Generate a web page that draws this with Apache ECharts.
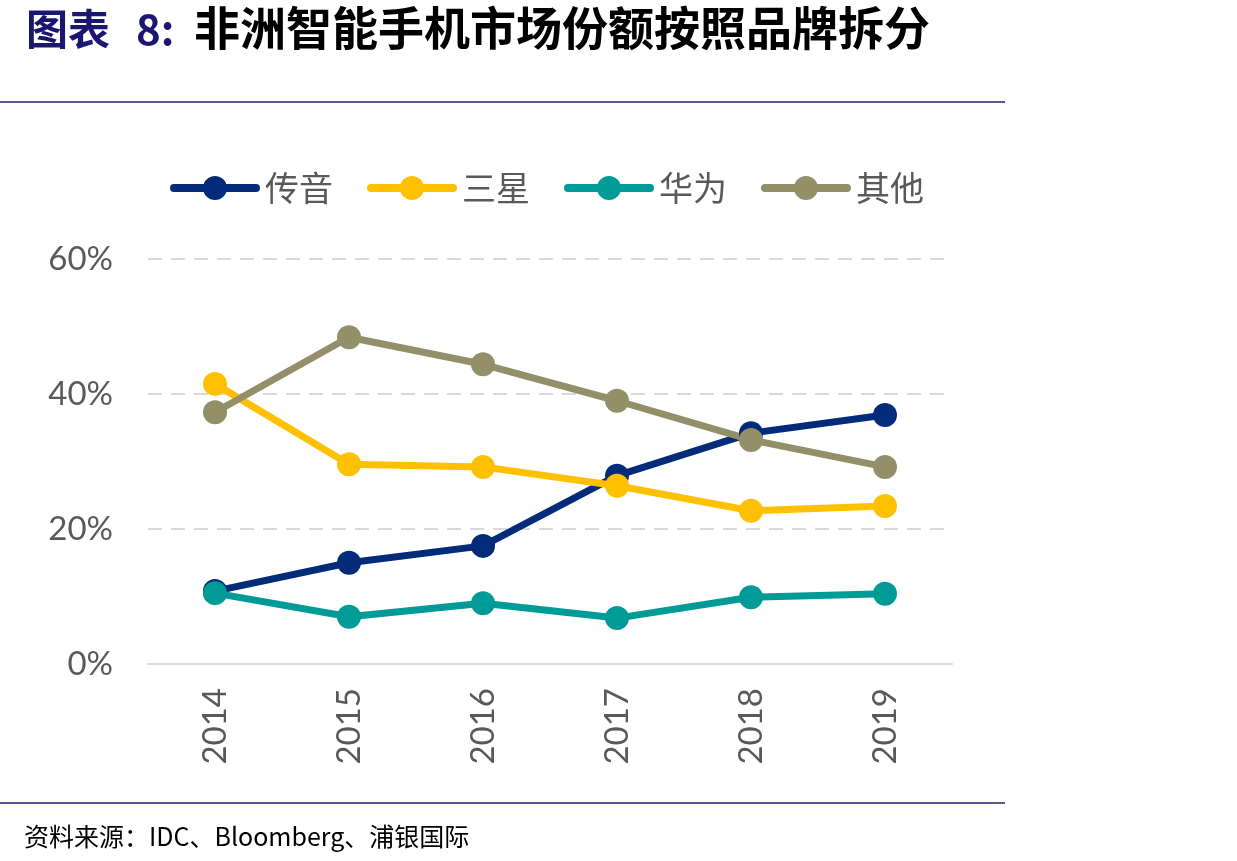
<!DOCTYPE html>
<html>
<head>
<meta charset="utf-8">
<script src="https://cdn.jsdelivr.net/npm/echarts@6/dist/echarts.min.js"></script>
<style>
  html, body { margin: 0; padding: 0; background: #fff; }
  #chart { width: 1237px; height: 861px; }
</style>
</head>
<body>
<div id="chart"></div>
<script>
// Africa smartphone market share by brand
const years = ["2014", "2015", "2016", "2017", "2018", "2019"];
const transsion = [10.8, 15.0, 17.5, 27.9, 34.2, 36.9];
const samsung = [41.5, 29.6, 29.2, 26.4, 22.7, 23.4];
const huawei = [10.5, 7.0, 9.0, 6.8, 9.9, 10.4];
const others = [37.3, 48.4, 44.4, 39.0, 33.2, 29.2];

const seriesNames = ["传音", "三星", "华为", "其他"];
const seriesColors = ["#022b7a", "#ffc000", "#009a97", "#939069"];
const seriesData = [transsion, samsung, huawei, others];

// legend icon: thick rounded bar with a dot in the middle
const legendIcon =
  "path://M4,8 L86,8 A4,4 0 0 1 86,16 L4,16 A4,4 0 0 1 4,8 Z " +
  "M33,12 A12,12 0 1 1 57,12 A12,12 0 1 1 33,12 Z";

const chart = echarts.init(document.getElementById("chart"));

chart.setOption({
  animation: false,
  backgroundColor: "#fff",
  textStyle: { fontFamily: "Lato, 'Noto Sans CJK SC', sans-serif" },
  legend: {
    data: seriesNames.map((n) => ({ name: n, icon: legendIcon })),
    top: 166,
    left: 165,
    itemWidth: 90,
    itemHeight: 24,
    itemGap: 34,
    textStyle: {
      fontSize: 34,
      color: "#595959",
      fontFamily: "'Noto Sans CJK SC', sans-serif",
    },
  },
  grid: {
    left: 148,
    right: 285,
    top: 259,
    bottom: 197,
  },
  xAxis: {
    type: "category",
    data: years,
    boundaryGap: true,
    axisLine: { lineStyle: { color: "#d9d9d9", width: 2 } },
    axisTick: { show: false },
    axisLabel: {
      rotate: 90,
      margin: 24,
      fontSize: 33,
      color: "#595959",
      fontFamily: "Lato, sans-serif",
    },
  },
  yAxis: {
    type: "value",
    min: 0,
    max: 60,
    interval: 20,
    axisLine: { show: false },
    axisTick: { show: false },
    axisLabel: {
      margin: 35,
      fontSize: 33,
      color: "#595959",
      fontFamily: "Lato, sans-serif",
      formatter: "{value}%",
    },
    splitLine: {
      lineStyle: { color: "#d9d9d9", width: 2, type: [14, 9] },
    },
  },
  series: seriesNames.map((name, i) => ({
    name,
    type: "line",
    data: seriesData[i],
    symbol: "circle",
    symbolSize: 24,
    lineStyle: { width: 7, color: seriesColors[i] },
    itemStyle: { color: seriesColors[i] },
  })),
  graphic: [
    {
      type: "text",
      left: 26,
      top: 8,
      style: {
        text: "图表",
        font: "bold 42px 'Noto Sans CJK SC', sans-serif",
        fill: "#1b1670",
      },
    },
    {
      type: "text",
      left: 136,
      top: 8,
      style: {
        text: "8:",
        font: "bold 42px 'Noto Sans CJK SC', sans-serif",
        fill: "#1b1670",
      },
    },
    {
      type: "text",
      left: 194,
      top: 5,
      style: {
        text: "非洲智能手机市场份额按照品牌拆分",
        font: "bold 46px 'Noto Sans CJK SC', sans-serif",
        fill: "#000",
      },
    },
    {
      type: "rect",
      shape: { x: 0, y: 101, width: 1005, height: 2 },
      style: { fill: "#5b5793" },
    },
    {
      type: "rect",
      shape: { x: 0, y: 802, width: 1005, height: 2 },
      style: { fill: "#5b5793" },
    },
    {
      type: "text",
      left: 24,
      top: 824,
      style: {
        text: "资料来源：IDC、Bloomberg、浦银国际",
        font: "25px 'Noto Sans CJK SC', sans-serif",
        fill: "#000",
      },
    },
  ],
});
</script>
</body>
</html>
